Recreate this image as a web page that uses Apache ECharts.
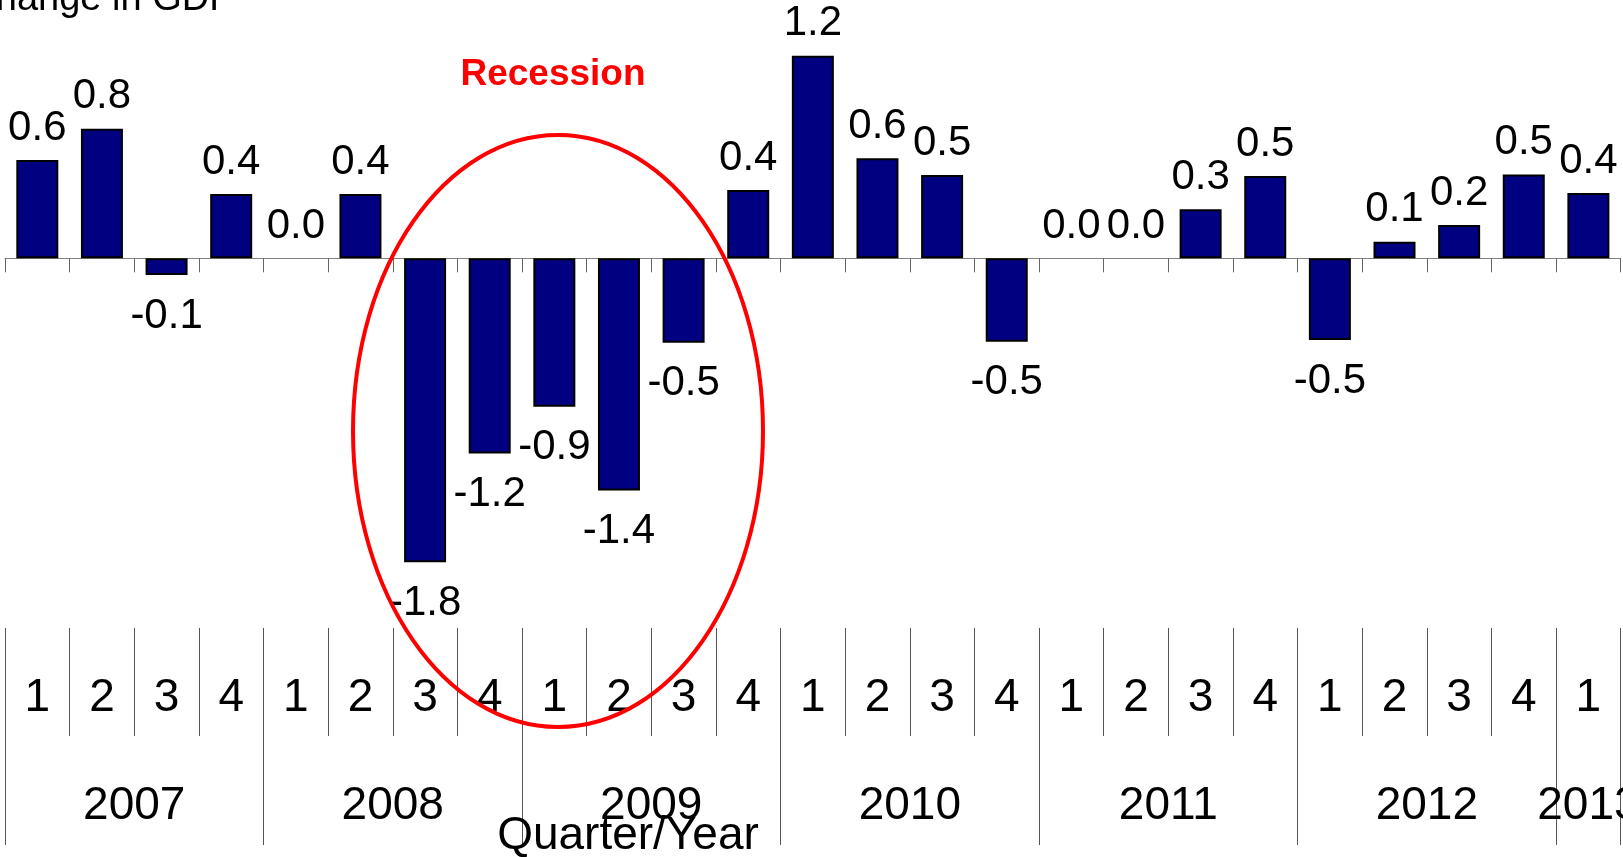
<!DOCTYPE html>
<html>
<head>
<meta charset="utf-8">
<script src="https://cdn.jsdelivr.net/npm/echarts@6/dist/echarts.min.js"></script>
<style>
html,body{margin:0;padding:0;background:#fff;}
#chart{width:1623px;height:857px;}
</style>
</head>
<body>
<div id="chart"></div>
<script>
// ---- data ----
const quarterLabels = ['1','2','3','4','1','2','3','4','1','2','3','4','1','2','3','4','1','2','3','4','1','2','3','4','1'];
const years = ['2007','2008','2009','2010','2011','2012','2013'];
const yearQuarterCounts = [4,4,4,4,4,4,1];
const gdpChange = [0.582, 0.768, -0.099, 0.381, 0.0, 0.381, -1.80, -1.156, -0.88, -1.376, -0.50, 0.405,
                   1.20, 0.592, 0.493, -0.494, 0.0, 0.0, 0.29, 0.488, -0.484, 0.098, 0.197, 0.497, 0.387];
const yTitle = '% Change in GDP';
const xTitle = 'Quarter/Year';
const noteText = 'Recession';

// year boundaries / centers derived from quarter counts
const yearBounds = [0];
const yearCenters = [];
yearQuarterCounts.forEach((c) => {
  const start = yearBounds[yearBounds.length - 1];
  yearCenters.push(start + c / 2);
  yearBounds.push(start + c);
});

const FONT = "'Liberation Sans', Arial, Helvetica, sans-serif";
const chart = echarts.init(document.getElementById('chart'));

const barData = gdpChange.map(v => ({
  value: v,
  itemStyle: v === 0 ? { borderWidth: 0 } : undefined,
  label: { position: v < 0 ? 'bottom' : 'top', distance: v < 0 ? 20 : 11 }
}));

const option = {
  animation: false,
  backgroundColor: '#ffffff',
  grid: { left: 5, right: 2.3, top: 5.1, bottom: 261.1, containLabel: false, outerBoundsMode: 'none' },
  xAxis: [
    {
      type: 'category', data: quarterLabels, position: 'bottom',
      axisLine: { show: true, onZero: true, lineStyle: { color: '#808080', width: 1 } },
      axisTick: { show: true, length: 14, interval: 0, lineStyle: { color: '#666', width: 1 } },
      axisLabel: { show: false },
      splitLine: { show: false }
    },
    {
      type: 'category', data: quarterLabels, position: 'bottom', offset: 32.1,
      axisLine: { show: false, onZero: false },
      axisTick: { show: true, length: 108, interval: 0, lineStyle: { color: '#555', width: 1 } },
      axisLabel: { show: true, interval: 0, margin: 47, fontSize: 46, color: '#000', fontFamily: FONT },
      splitLine: { show: false }
    },
    {
      type: 'value', min: 0, max: yearBounds[yearBounds.length - 1], position: 'bottom', offset: 32.1,
      axisLine: { show: false, onZero: false },
      axisTick: { show: true, length: 217, customValues: yearBounds, lineStyle: { color: '#555', width: 1 } },
      axisLabel: {
        show: true, customValues: yearCenters, margin: 155.5, fontSize: 46, color: '#000', fontFamily: FONT,
        formatter: (val) => {
          const i = yearCenters.findIndex(c => Math.abs(c - val) < 1e-6);
          return i >= 0 ? years[i] : '';
        }
      },
      splitLine: { show: false }
    }
  ],
  yAxis: {
    type: 'value', min: -2, max: 1.5, show: false,
    splitLine: { show: false }
  },
  series: [{
    type: 'bar',
    xAxisIndex: 0,
    data: barData,
    barWidth: 42,
    itemStyle: { color: '#000080', borderColor: '#000', borderWidth: 2 },
    label: {
      show: true, fontSize: 42, color: '#000', fontFamily: FONT,
      formatter: (p) => Number(p.value).toFixed(1)
    }
  }],
  graphic: [
    {
      type: 'text', x: -76, y: 0, z: 10,
      style: { text: yTitle, font: '38px ' + FONT, fill: '#000', textAlign: 'left', verticalAlign: 'middle' }
    },
    {
      type: 'text', x: 553, y: 74.5, z: 10,
      style: { text: noteText, font: 'bold 37px ' + FONT, fill: '#ff0000', textAlign: 'center', verticalAlign: 'middle' }
    },
    {
      type: 'text', x: 628, y: 836.5, z: 10,
      style: { text: xTitle, font: '46px ' + FONT, fill: '#000', textAlign: 'center', verticalAlign: 'middle' }
    },
    {
      type: 'ellipse', z: 20,
      shape: { cx: 558, cy: 431, rx: 205, ry: 296 },
      style: { fill: 'none', stroke: '#ff0000', lineWidth: 4 }
    }
  ]
};
chart.setOption(option);
</script>
</body>
</html>
